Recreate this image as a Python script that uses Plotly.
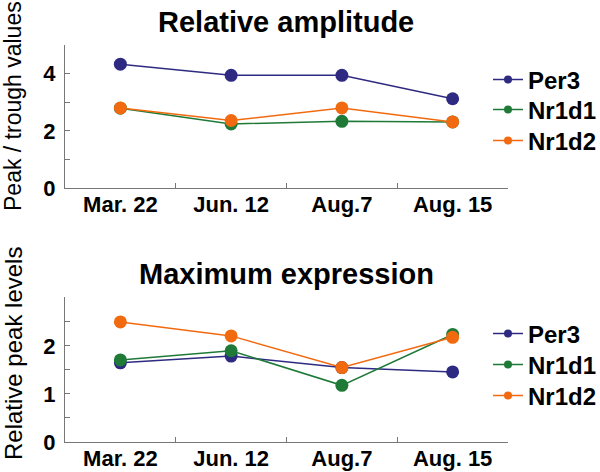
import plotly.graph_objects as go

categories = ["Mar. 22", "Jun. 12", "Aug.7", "Aug. 15"]
series_names = ["Per3", "Nr1d1", "Nr1d2"]
amp_per3 = [4.33, 3.94, 3.94, 3.12]
amp_nr1d1 = [2.79, 2.24, 2.33, 2.31]
amp_nr1d2 = [2.80, 2.36, 2.80, 2.31]
max_per3 = [1.65, 1.79, 1.55, 1.46]
max_nr1d1 = [1.71, 1.90, 1.18, 2.24]
max_nr1d2 = [2.50, 2.21, 1.55, 2.18]
colors = ["#2e2a82", "#1f7a38", "#f26a10"]

FONT = "Liberation Sans, Arial, Helvetica, sans-serif"

W, H = 600, 472
ML, MR, MT, MB = 65, 92, 45, 30
PW, PH = W - ML - MR, H - MT - MB


def px_x(px):
    return (px - ML) / PW


def px_y(py):
    return (H - MB - py) / PH


legfont = dict(family=FONT, size=24, color="black", weight="bold")
legend_rows = {"top": [80, 110, 141], "bottom": [334, 365, 396]}

fig = go.Figure()
top = [amp_per3, amp_nr1d1, amp_nr1d2]
bot = [max_per3, max_nr1d1, max_nr1d2]
legend_layout = {}
n = 0
for (xa, ya, key), data in [(("x", "y", "top"), top), (("x2", "y2", "bottom"), bot)]:
    for name, vals, c in zip(series_names, data, colors):
        fig.add_trace(go.Scatter(x=categories, y=vals, name=name, mode="lines+markers",
                                 line=dict(color=c, width=1.5), marker=dict(color=c, size=13),
                                 xaxis=xa, yaxis=ya, showlegend=False))
    # legend entries (smaller symbols, one legend per row for tight spacing)
    for name, c, row in zip(series_names, colors, legend_rows[key]):
        n += 1
        lname = "legend" if n == 1 else f"legend{n}"
        fig.add_trace(go.Scatter(x=[None], y=[None], name=name, mode="lines+markers",
                                 line=dict(color=c, width=1.5), marker=dict(color=c, size=8),
                                 xaxis=xa, yaxis=ya, legend=lname))
        legend_layout[lname] = dict(x=px_x(488), xanchor="left", y=px_y(row), yanchor="middle",
                                    bgcolor="rgba(0,0,0,0)", font=legfont, itemwidth=30)

axis_line = dict(showline=True, linecolor="#777777", linewidth=1, showgrid=False,
                 zeroline=False, ticks="inside", tickcolor="#777777", ticklen=5)
xfont = dict(family=FONT, size=22, color="black", weight="bold")
yfont = dict(family=FONT, size=22, color="black", weight="bold")

fig.update_layout(
    width=W, height=H,
    margin=dict(l=ML, r=MR, t=MT, b=MB, autoexpand=False),
    plot_bgcolor="white", paper_bgcolor="white",
    font=dict(family=FONT, color="black"),
    xaxis=dict(domain=[0, 1], anchor="y", type="category", range=[-0.5, 3.5],
               tickson="boundaries", tickfont=xfont, automargin=False,
               ticklabelstandoff=-3, **axis_line),
    yaxis=dict(domain=[px_y(188), 1], anchor="x", range=[0, 5], tickvals=[0, 1, 2, 3, 4],
               ticktext=["0", "", "2", "", "4"], tickfont=yfont, automargin=False,
               ticklabelstandoff=4, **axis_line),
    xaxis2=dict(domain=[0, 1], anchor="y2", type="category", range=[-0.5, 3.5],
                tickson="boundaries", tickfont=xfont, automargin=False,
                ticklabelstandoff=-3, **axis_line),
    yaxis2=dict(domain=[0, px_y(297)], anchor="x2", range=[0, 3.02],
                tickvals=[0, 0.5, 1, 1.5, 2, 2.5], ticktext=["0", "", "1", "", "2", ""],
                tickfont=yfont, automargin=False, ticklabelstandoff=4, **axis_line),
    annotations=[
        dict(text="<b>Relative amplitude</b>", x=px_x(286), y=px_y(22), xref="paper", yref="paper",
             xanchor="center", yanchor="middle",
             showarrow=False, font=dict(family=FONT, size=29, color="black")),
        dict(text="<b>Maximum expression</b>", x=px_x(286), y=px_y(274), xref="paper", yref="paper",
             xanchor="center", yanchor="middle",
             showarrow=False, font=dict(family=FONT, size=29, color="black")),
        dict(text="Peak / trough values", x=px_x(13), y=px_y(106), xref="paper", yref="paper",
             xanchor="center", yanchor="middle",
             showarrow=False, textangle=-90, font=dict(family=FONT, size=23, color="black")),
        dict(text="Relative peak levels", x=px_x(13), y=px_y(354), xref="paper", yref="paper",
             xanchor="center", yanchor="middle",
             showarrow=False, textangle=-90, font=dict(family=FONT, size=24, color="black")),
    ],
    **legend_layout,
)

fig.write_html("out.html", config={"displayModeBar": False},
               post_script="document.body.style.margin='0';")
